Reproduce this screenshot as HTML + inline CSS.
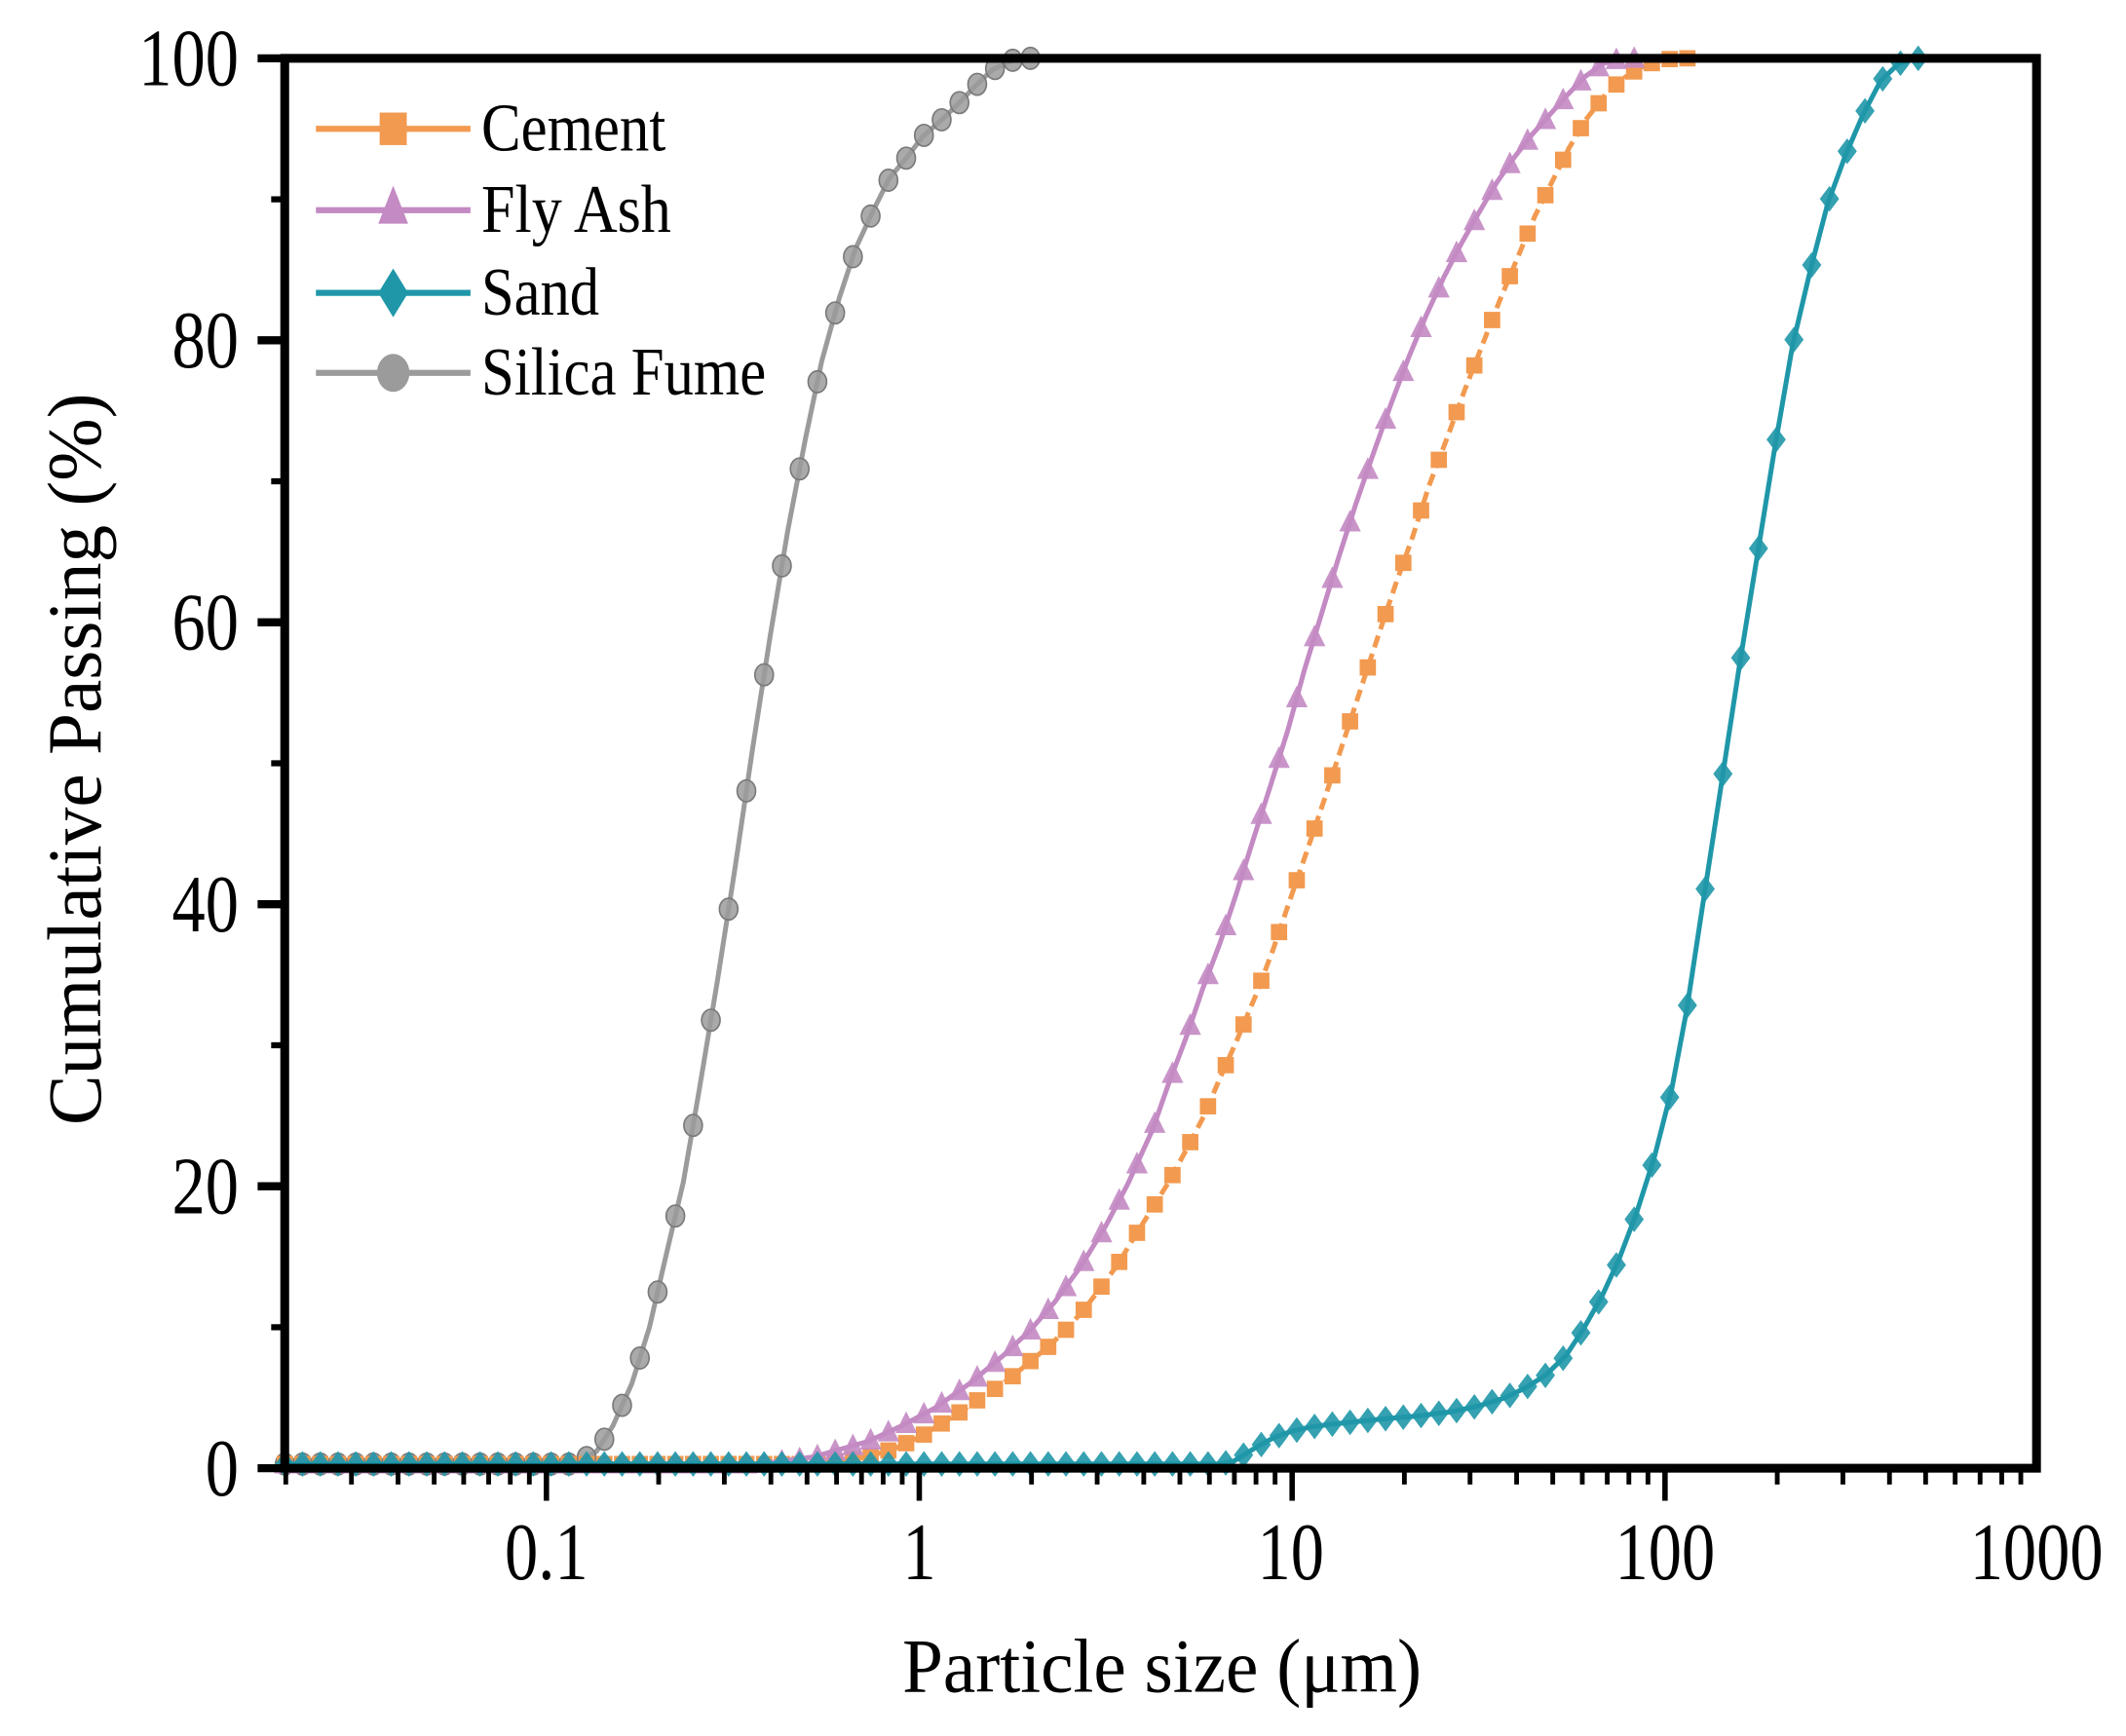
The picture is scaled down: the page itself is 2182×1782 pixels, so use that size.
<!DOCTYPE html>
<html><head><meta charset="utf-8"><style>
html,body{margin:0;padding:0;background:#fff;}
svg{display:block;}
text{font-family:"Liberation Serif","DejaVu Serif",serif;fill:#000;}
</style></head><body>
<svg id="s" width="2182" height="1782" viewBox="0 0 1568 1280.5" xmlns="http://www.w3.org/2000/svg"></svg>
<script>
const S=document.getElementById('s');const NS='http://www.w3.org/2000/svg';
function el(t,a,txt){const e=document.createElementNS(NS,t);for(const k in a)e.setAttribute(k,a[k]);if(txt!=null)e.textContent=txt;S.appendChild(e);return e;}
const L=210,R=1502,T=43,B=1083;
const Y=p=>1083-10.4*p;
const silica=[[210,0.3],[425,0.3],[440,1.2],[452,3],[466,6],[479,10],[491,15],[504,20.3],[516,27],[529,34.5],[542,42.5],[555,51],[568,59],[581,66.5],[594,73],[606,78.5],[619,83],[631,86.5],[644,89.2],[656,91.5],[669,93],[681,94.5],[693,95.5],[706,96.7],[719,98],[732,99.2],[750,100],[1320,100]];
const cement=[[210,0.3],[600,0.3],[640,0.8],[660,1.4],[680,2.3],[695,3.2],[710,4.1],[722,4.9],[735,5.7],[748,6.6],[760,7.6],[773,8.6],[786,9.8],[799,11.2],[811,12.7],[824,14.4],[836,16.3],[849,18.3],[862,20.3],[875,22.6],[888,25],[899,27.5],[912,30.3],[926,33.5],[939,36.8],[951,40.2],[964,43.8],[977,47.5],[990,51.3],[1003,55.1],[1016,58.9],[1029,62.6],[1042,66.1],[1054,69.7],[1067,73],[1080,76.4],[1093,79.6],[1106,82.8],[1119,85.8],[1132,88.8],[1145,91.3],[1157,93.6],[1170,95.7],[1183,97.3],[1196,98.5],[1209,99.3],[1222,99.8],[1235,100],[1320,100]];
const fly=[[210,0.3],[560,0.3],[600,0.8],[640,1.9],[665,3],[690,4.3],[715,6],[740,8],[760,9.8],[778,11.8],[797,14.3],[815,17.1],[832,20.2],[850,24],[862,27.3],[875,30.6],[887,34],[900,37.3],[912,40.8],[924,44.5],[937,48.4],[950,52.4],[962,56.6],[975,60.7],[987,64.5],[1000,68.4],[1013,72],[1026,75.5],[1039,78.8],[1052,81.8],[1065,84.5],[1078,86.9],[1091,89.1],[1104,91.2],[1117,93],[1130,94.6],[1143,96],[1156,97.4],[1169,98.7],[1182,99.6],[1195,100],[1390,100]];
const sand=[[210,0.3],[900,0.3],[910,0.5],[925,1.4],[940,2.2],[952,2.6],[965,2.9],[980,3.1],[1000,3.3],[1020,3.5],[1045,3.7],[1070,4],[1090,4.4],[1110,5],[1125,5.7],[1140,6.6],[1155,8],[1168,9.9],[1182,12.3],[1194,14.8],[1207,18.1],[1220,22],[1233,26.9],[1244,32.5],[1257,40.7],[1270,48.8],[1283,57],[1296,64.7],[1309,72.4],[1322,79.6],[1335,84.9],[1348,89.7],[1361,93.1],[1374,96],[1387,98.4],[1400,99.6],[1412,100],[1502,100]];
function interp(d,x){if(x<=d[0][0])return d[0][1];for(let i=1;i<d.length;i++){if(x<=d[i][0]){const a=d[i-1],b=d[i];return a[1]+(b[1]-a[1])*(x-a[0])/(b[0]-a[0]);}}return d[d.length-1][1];}
function series(d,col,dash,mk,sz){
  let pts=d.map(p=>p[0]+','+Y(p[1])).join(' ');
  const a={points:pts,fill:'none',stroke:col,'stroke-width':3.6};if(dash)a['stroke-dasharray']=dash;el('polyline',a);
  const step=275/21;let stopped=false;
  for(let x=L;x<=R+0.1;x+=step){
    if(x>d[d.length-1][0])break;
    const p=interp(d,x);const y=Y(p);
    if(stopped)break;if(p>=99.95)stopped=true;
    const h=sz/2;
    if(mk==='sq')el('rect',{x:x-h,y:y-h,width:sz,height:sz,fill:col});
    else if(mk==='tri')el('polygon',{points:`${x},${y-h-1} ${x-h},${y+h-1} ${x+h},${y+h-1}`,fill:col,'fill-opacity':0.9});
    else if(mk==='dia')el('polygon',{points:`${x},${y-h} ${x+h*0.75},${y} ${x},${y+h} ${x-h*0.75},${y}`,fill:col,'fill-opacity':0.9});
    else el('ellipse',{cx:x,cy:y,rx:h*0.85,ry:h,fill:col,'fill-opacity':0.85,stroke:'#7a7a7a','stroke-width':1.2});
  }
}
const cG='#9b9b9b',cO='#f29a50',cP='#c38ac3',cT='#1f97a9';
series(silica,cG,null,'c',16);
series(cement,cO,'9,5','sq',12);
series(fly,cP,null,'tri',16);
series(sand,cT,null,'dia',19);
// axes
el('rect',{x:L,y:T,width:R-L,height:B-T,fill:'none',stroke:'#000','stroke-width':6.5});
for(let e=-2;e<=3;e++){for(let m=1;m<10;m++){const v=m*Math.pow(10,e);const x=678+275*Math.log10(v);if(x<L-0.5||x>R+0.5)continue;
  const maj=m===1;el('line',{x1:x,y1:B,x2:x,y2:B+(maj?24:12),stroke:'#000','stroke-width':maj?4:3.5});}}
function ct(x,y,size,anchor,str,sx){const g=el('text',{x:0,y:0,'font-size':size,'text-anchor':anchor,transform:`translate(${x},${y}) scale(${sx},1)`},str);return g;}
[['0.1',403],['1',678],['10',952],['100',1228],['1000',1502]].forEach(t=>ct(t[1],1165,60,'middle',t[0],0.82));
for(let p=0;p<=100;p+=10){const y=Y(p);const maj=p%20===0;el('line',{x1:L,y1:y,x2:L-(maj?20:10),y2:y,stroke:'#000','stroke-width':maj?6:4.5});
  if(maj)ct(176,y+20,60,'end',String(p),0.82);}
el('text',{x:857,y:1248,'font-size':56,'text-anchor':'middle',textLength:383,lengthAdjust:'spacingAndGlyphs'},'Particle size (μm)');
el('text',{x:0,y:0,'font-size':56,'text-anchor':'middle',transform:'translate(74,560) rotate(-90)',textLength:540,lengthAdjust:'spacingAndGlyphs'},'Cumulative Passing (%)');
const leg=[['Cement',cO,'sq',136],['Fly Ash',cP,'tri',140],['Sand',cT,'dia',87],['Silica Fume',cG,'c',210]];
leg.forEach((g,i)=>{const y=[95,155,216,275][i];el('line',{x1:233,y1:y,x2:347,y2:y,stroke:g[1],'stroke-width':4.5});
  const x=290;
  if(g[2]==='sq')el('rect',{x:x-10,y:y-12,width:20,height:24,fill:g[1]});
  else if(g[2]==='tri')el('polygon',{points:`${x},${y-18} ${x-11},${y+10} ${x+11},${y+10}`,fill:g[1]});
  else if(g[2]==='dia')el('polygon',{points:`${x},${y-18} ${x+11},${y} ${x},${y+18} ${x-11},${y}`,fill:g[1]});
  else el('ellipse',{cx:x,cy:y,rx:12,ry:14,fill:g[1]});
  el('text',{x:355,y:y+16,'font-size':50,textLength:g[3],lengthAdjust:'spacingAndGlyphs'},g[0]);});
</script>
</body></html>
